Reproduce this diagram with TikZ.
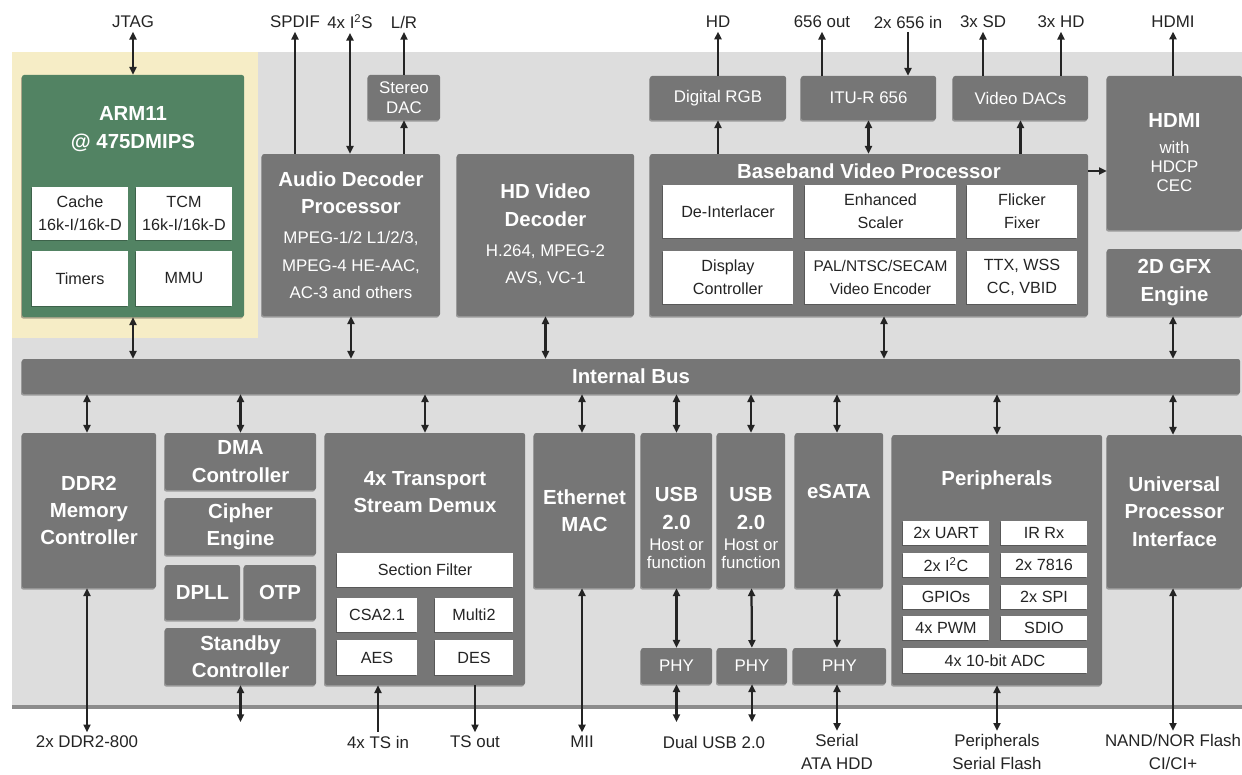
\documentclass[tikz,border=0pt]{standalone}
\usepackage{fontspec}
\setmainfont{Liberation Sans}
\usetikzlibrary{arrows.meta,calc,shadows}
\definecolor{panel}{RGB}{221,221,221}
\definecolor{armbg}{RGB}{246,237,198}
\definecolor{armgreen}{RGB}{82,131,99}
\definecolor{blockgray}{RGB}{118,118,118}
\definecolor{ink}{RGB}{36,36,36}
\newcommand{\pxu}{0.025cm}
\newcommand{\bigf}{\fontsize{14.5}{19.5}\selectfont\bfseries}
\newcommand{\smallf}{\fontsize{12}{17}\selectfont\mdseries}
\newcommand{\unitf}{\fontsize{11.5}{16.5}\selectfont}
\newcommand{\portf}{\fontsize{12}{16}\selectfont}

\begin{document}
\begin{tikzpicture}[x=0.025cm, y=-0.025cm,
  >={Triangle[length=5.5pt,width=5pt]},
  wh/.style 2 args={minimum width=#1*\pxu, minimum height=#2*\pxu},
  block/.style={fill=blockgray, text=white, align=center, inner sep=0pt, rounded corners=1.5pt, font=\bigf,
    drop shadow={shadow xshift=-0.7pt, shadow yshift=-1.1pt, fill=black, opacity=0.3}},
  unit/.style={fill=white, text=ink, align=center, inner sep=0pt, font=\unitf,
    drop shadow={shadow xshift=-0.6pt, shadow yshift=-0.9pt, fill=black, opacity=0.25}},
  heading/.style={text=white, align=center, font=\bigf},
  port/.style={text=ink, align=center, inner sep=2.5pt, font=\portf},
  link/.style={draw=ink, line width=1.6pt}]
\useasboundingbox (0,0) rectangle (1242,775);
\fill[panel, drop shadow={shadow xshift=0pt, shadow yshift=-2.5pt, fill=black, opacity=0.45}] (12,52) rectangle (1242,705);
\fill[armbg] (12,52) rectangle (258,338);

\node[port] (jtag) at (133,22) {JTAG};
\node[port] (spdif) at (295,22) {SPDIF};
\node[port] (i2s) at (350,22) {4x I\textsuperscript{2}S};
\node[port] (lr) at (404,22) {L/R};
\node[port] (hd) at (718,22) {HD};
\node[port] (out656) at (822,22) {656 out};
\node[port] (in656) at (908,22) {2x 656 in};
\node[port] (sd) at (983,22) {3x SD};
\node[port] (hdo) at (1061,22) {3x HD};
\node[port] (hdmio) at (1173,22) {HDMI};

\node[block, fill=armgreen, wh={222}{242}] (arm) at (133,196) {};
\node[heading] (armtitle) at (133,129) {ARM11\\@ 475DMIPS};
\node[unit, wh={96}{53}] (cache) at (80,213.5) {Cache\\16k-I/16k-D};
\node[unit, wh={96}{53}] (tcm) at (184,213.5) {TCM\\16k-I/16k-D};
\node[unit, wh={96}{55}] (timers) at (80,278.5) {Timers};
\node[unit, wh={96}{55}] (mmu) at (184,278.5) {MMU};

\node[block, wh={178}{162}] (audio) at (351,235) {Audio Decoder\\Processor\\[2pt]\smallf MPEG-1/2 L1/2/3,\\\smallf MPEG-4 HE-AAC,\\\smallf AC-3 and others};
\node[block, font=\smallf, wh={72}{45}] (dac) at (404,97.5) {Stereo\\[-3pt]DAC};
\node[block, wh={177}{162}] (hdvid) at (545.5,235) {HD Video\\Decoder\\[2pt]\smallf H.264, MPEG-2\\\smallf AVS, VC-1};

\node[block, font=\smallf, wh={136}{44}] (rgb) at (718,98) {Digital RGB};
\node[block, font=\smallf, wh={135}{44}] (itu) at (868.5,98) {ITU-R 656};
\node[block, font=\smallf, wh={135}{44}] (vdacs) at (1020.5,98) {Video DACs};

\node[block, wh={438}{162}] (bvp) at (869,235) {};
\node[heading] (bvptitle) at (869,171) {Baseband Video Processor};
\node[unit, wh={130}{53}] (deint) at (728,211.5) {De-Interlacer};
\node[unit, wh={151}{53}] (scaler) at (880.5,211.5) {Enhanced\\Scaler};
\node[unit, wh={110}{53}] (flicker) at (1022,211.5) {Flicker\\Fixer};
\node[unit, wh={130}{53}] (dispctl) at (728,277.5) {Display\\Controller};
\node[unit, font=\fontsize{11}{16.5}\selectfont, wh={151}{53}] (encoder) at (880.5,277.5) {PAL/NTSC/SECAM\\Video Encoder};
\node[unit, wh={110}{53}] (ttx) at (1022,277.5) {TTX, WSS\\CC, VBID};

\node[block, wh={135}{154}] (hdmi) at (1174.5,153) {HDMI\\[-1pt]\smallf with\\[-6pt]\smallf HDCP\\[-6pt]\smallf CEC};
\node[block, wh={135}{67}] (gfx) at (1174.5,282.5) {2D GFX\\Engine};

\node[block, wh={1218}{35}] (bus) at (631,376.5) {Internal Bus};

\node[block, wh={134}{155}] (ddr) at (89,510.5) {DDR2\\Memory\\Controller};
\node[block, wh={151}{57}] (dma) at (240.5,461.5) {DMA\\Controller};
\node[block, wh={151}{57}] (cipher) at (240.5,526.5) {Cipher\\Engine};
\node[block, wh={75}{55}] (dpll) at (202.5,592.5) {DPLL};
\node[block, wh={72}{55}] (otp) at (280,592.5) {OTP};
\node[block, wh={151}{57}] (standby) at (240.5,656.5) {Standby\\Controller};

\node[block, wh={200}{252}] (tsd) at (425,559) {};
\node[heading] (tsdtitle) at (425,492) {4x Transport\\Stream Demux};
\node[unit, wh={176}{34}] (secfil) at (425,570) {Section Filter};
\node[unit, wh={80}{34}] (csa) at (377,615) {CSA2.1};
\node[unit, wh={78}{34}] (multi) at (474,615) {Multi2};
\node[unit, wh={80}{35}] (aes) at (377,657.5) {AES};
\node[unit, wh={78}{35}] (des) at (474,657.5) {DES};

\node[block, wh={101}{155}] (eth) at (584.5,510.5) {Ethernet\\MAC};
\node[block, wh={71}{155}] (usba) at (676.5,510.5) {};
\node[heading] (usbatext) at (676.5,528) {USB\\2.0\\[-4pt]\smallf Host or\\[-7pt]\smallf function};
\node[block, wh={68}{155}] (usbb) at (751,510.5) {};
\node[heading] (usbbtext) at (751,528) {USB\\2.0\\[-4pt]\smallf Host or\\[-7pt]\smallf function};
\node[block, wh={88}{155}] (esata) at (839,510.5) {eSATA\\[8pt]};
\node[block, font=\smallf, wh={71}{36}] (phya) at (676.5,666) {PHY};
\node[block, font=\smallf, wh={70}{36}] (phyb) at (752,666) {PHY};
\node[block, font=\smallf, wh={93}{36}] (phyc) at (839.5,666) {PHY};

\node[block, wh={210}{250}] (periph) at (997,560) {};
\node[heading] (periphtitle) at (997,480) {Peripherals};
\node[unit, wh={86}{24}] (uart) at (946,533) {2x UART};
\node[unit, wh={86}{24}] (irrx) at (1044,533) {IR Rx};
\node[unit, wh={86}{24}] (i2c) at (946,564.5) {2x I\textsuperscript{2}C};
\node[unit, wh={86}{24}] (iso) at (1044,564.5) {2x 7816};
\node[unit, wh={86}{24}] (gpio) at (946,597) {GPIOs};
\node[unit, wh={86}{24}] (spi) at (1044,597) {2x SPI};
\node[unit, wh={86}{24}] (pwm) at (946,627.5) {4x PWM};
\node[unit, wh={86}{24}] (sdio) at (1044,627.5) {SDIO};
\node[unit, wh={184}{25}] (adc) at (995,660.5) {4x 10-bit ADC};

\node[block, wh={135}{153}] (upi) at (1174.5,511.5) {Universal\\Processor\\Interface};

\node[port] (ddrio) at (87,742) {2x DDR2-800};
\node[port] (tsin) at (378,742) {4x TS in};
\node[port] (tsout) at (475,742) {TS out};
\node[port] (mii) at (582,742) {MII};
\node[port] (usbio) at (714,742) {Dual USB 2.0};
\node[port] (sata) at (837,752) {Serial\\ATA HDD};
\node[port] (periphio) at (997,752) {Peripherals\\Serial Flash};
\node[port] (flash) at (1173,752) {NAND/NOR Flash\\CI/CI+};
\coordinate (sbyio) at (240.5,722);
\coordinate (usbaio) at (676.5,722);
\coordinate (usbbio) at (752,722);

\draw[link,<->] (jtag) -- (arm);
\draw[link,->] (audio.north -| spdif) -- (spdif);
\draw[link,<->] (audio.north -| i2s) -- (i2s);
\draw[link,->] (dac) -- (lr);
\draw[link,->] (audio.north -| dac) -- (dac);
\draw[link,->] (rgb) -- (hd);
\draw[link,->] (bvp.north -| rgb) -- (rgb);
\draw[link,->] (itu.north -| out656) -- (out656);
\draw[link,->] (in656) -- (itu.north -| in656);
\draw[link,<->] (bvp.north -| itu) -- (itu);
\draw[link,->] (vdacs.north -| sd) -- (sd);
\draw[link,->] (vdacs.north -| hdo) -- (hdo);
\draw[link,->] (bvp.north -| vdacs) -- (vdacs);
\draw[link,->] (hdmi.north -| hdmio) -- (hdmio);
\draw[link,->] (bvptitle -| bvp.east) -- (bvptitle -| hdmi.west);

\draw[link,<->] (arm.south) -- (arm.south |- bus.north);
\draw[link,<->] (audio.south) -- (audio.south |- bus.north);
\draw[link,<->] (hdvid.south) -- (hdvid.south |- bus.north);
\draw[link,<->] ($(bvp.south)+(15,0)$) -- ($(bvp.south |- bus.north)+(15,0)$);
\draw[link,<->] (gfx.south -| hdmio) -- (bus.north -| hdmio);

\draw[link,<->] (bus.south -| ddrio) -- (ddr.north -| ddrio);
\draw[link,<->] (bus.south -| dma) -- (dma);
\draw[link,<->] (bus.south -| tsd) -- (tsd);
\draw[link,<->] (bus.south -| mii) -- (eth.north -| mii);
\draw[link,<->] (bus.south -| usba) -- (usba);
\draw[link,<->] (bus.south -| usbb) -- (usbb);
\draw[link,<->] (bus.south -| sata) -- (esata.north -| sata);
\draw[link,<->] (bus.south -| periph) -- (periph);
\draw[link,<->] (bus.south -| flash) -- (upi.north -| flash);

\draw[link,<->] (ddr.south -| ddrio) -- (ddrio);
\draw[link,<->] (standby) -- (sbyio);
\draw[link,->] (tsin) -- (tsd.south -| tsin);
\draw[link,->] (tsd.south -| tsout) -- (tsout);
\draw[link,<->] (eth.south -| mii) -- (mii);
\draw[link,<->] (usba) -- (phya);
\draw[link,<->] (usbb) -- (phyb);
\draw[link,<->] (esata.south -| sata) -- (phyc.north -| sata);
\draw[link,<->] (phya) -- (usbaio);
\draw[link,<->] (phyb) -- (usbbio);
\draw[link,<->] (phyc.south -| sata) -- (sata);
\draw[link,<->] (periph) -- (periphio);
\draw[link,<->] (upi.south -| flash) -- (flash);
\end{tikzpicture}
\end{document}
